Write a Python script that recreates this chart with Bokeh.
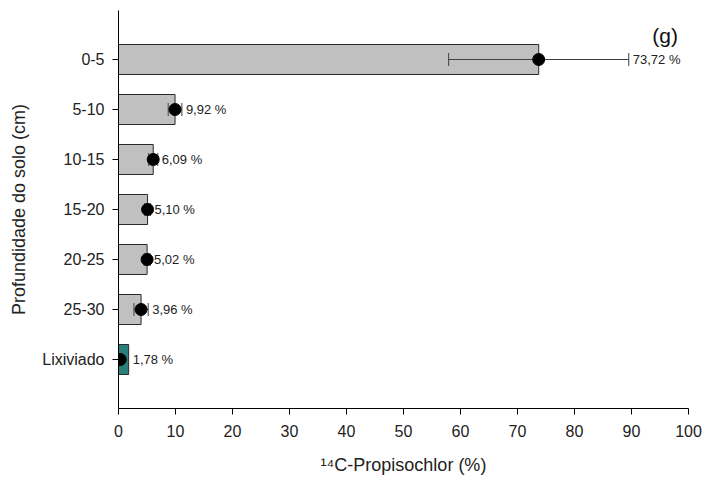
from bokeh.plotting import figure
from bokeh.models import ColumnDataSource, FixedTicker, Range1d, Label
from bokeh.embed import file_html
from bokeh.resources import INLINE

# ---- data ----
depths = ["0-5", "5-10", "10-15", "15-20", "20-25", "25-30", "Lixiviado"]
bar_values = [73.72, 9.92, 6.09, 5.10, 5.02, 3.96, 1.78]
point_values = [73.72, 9.92, 6.09, 5.10, 5.02, 3.96, 0.30]
errors = [15.8, 1.2, 0.8, 0.5, 0.5, 1.25, 0.3]
label_texts = ["73,72 %", "9,92 %", "6,09 %", "5,10 %", "5,02 %", "3,96 %", "1,78 %"]
bar_colors = ["#c0c0c0", "#c0c0c0", "#c0c0c0", "#c0c0c0", "#c0c0c0", "#c0c0c0", "#2b7f7b"]
x_ticks = [0, 10, 20, 30, 40, 50, 60, 70, 80, 90, 100]
panel_tag = "(g)"

FONT = "Liberation Sans"
n = len(depths)
ypos = [n - 1 - i for i in range(n)]
cap_h = 0.13

src = ColumnDataSource(dict(
    y=ypos,
    bar=bar_values,
    pt=point_values,
    lo=[p - e for p, e in zip(point_values, errors)],
    hi=[p + e for p, e in zip(point_values, errors)],
    cap_lo=[y - cap_h for y in ypos],
    cap_hi=[y + cap_h for y in ypos],
    lab_x=[max(b, p + e) for b, p, e in zip(bar_values, point_values, errors)],
    lab=label_texts,
    color=bar_colors,
))

p = figure(width=706, height=482, output_backend="svg", toolbar_location=None,
           x_range=Range1d(0, 100), y_range=Range1d(-0.98, n - 1 + 0.98),
           min_border_left=118, min_border_right=18, min_border_top=10,
           min_border_bottom=74)
p.outline_line_color = None
p.xgrid.visible = False
p.ygrid.visible = False
p.background_fill_color = "white"
p.border_fill_color = "white"

p.hbar(y="y", left=0, right="bar", height=0.6, source=src,
       fill_color="color", line_color="#2a2a2a", line_width=1)

# error bars
p.segment(x0="lo", y0="y", x1="hi", y1="y", source=src, line_color="#404040", line_width=1)
p.segment(x0="lo", y0="cap_lo", x1="lo", y1="cap_hi", source=src, line_color="#404040", line_width=1)
p.segment(x0="hi", y0="cap_lo", x1="hi", y1="cap_hi", source=src, line_color="#404040", line_width=1)

p.scatter(x="pt", y="y", source=src, size=12, fill_color="black", line_color="black")

p.text(x="lab_x", y="y", text="lab", source=src, x_offset=4,
       text_font_size="13px", text_baseline="middle", text_align="left",
       text_color="#222222", text_font={"value": FONT})

p.add_layout(Label(x=95.9, y=n - 1 + 0.48, text=panel_tag, text_font=FONT,
                   text_font_size="21px", text_align="center", text_baseline="middle",
                   text_color="#111111"))

# axes
p.xaxis.ticker = FixedTicker(ticks=x_ticks)
p.yaxis.ticker = FixedTicker(ticks=ypos)
p.yaxis.major_label_overrides = {y: d for y, d in zip(ypos, depths)}

for ax in (p.xaxis[0], p.yaxis[0]):
    ax.axis_line_color = "black"
    ax.axis_line_width = 1
    ax.major_tick_line_color = "black"
    ax.major_tick_out = 6
    ax.major_tick_in = 0
    ax.minor_tick_line_color = None
    ax.major_label_text_font = FONT
    ax.major_label_text_font_size = "16px"
    ax.major_label_text_color = "#222222"
    ax.axis_label_text_font = FONT
    ax.axis_label_text_font_size = "18px"
    ax.axis_label_text_font_style = "normal"
    ax.axis_label_text_color = "#222222"

p.xaxis.axis_label = "¹⁴C-Propisochlor (%)"
p.yaxis.axis_label = "Profundidade do solo (cm)"
p.xaxis.major_label_standoff = 10
p.xaxis.axis_label_standoff = 15
p.yaxis.major_label_standoff = 8
p.yaxis.axis_label_standoff = 10

open("out.html", "w").write(file_html(p, INLINE))
